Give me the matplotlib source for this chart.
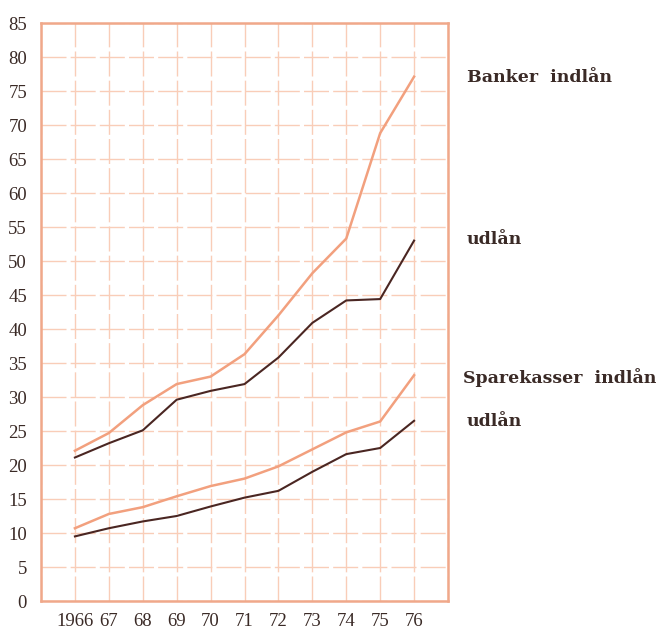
import numpy as np
import matplotlib.pyplot as plt

years = [1966, 1967, 1968, 1969, 1970, 1971, 1972, 1973, 1974, 1975, 1976]
year_labels = ["1966", "67", "68", "69", "70", "71", "72", "73", "74", "75", "76"]

banker_indlan = [22.1, 24.7, 28.8, 31.9, 33.0, 36.3, 42.0, 48.2, 53.3, 68.8, 77.1]
banker_udlan = [21.1, 23.2, 25.1, 29.6, 30.9, 31.9, 35.8, 40.9, 44.2, 44.4, 53.0]
spare_indlan = [10.7, 12.8, 13.8, 15.4, 16.9, 18.0, 19.8, 22.3, 24.8, 26.4, 33.2]
spare_udlan = [9.5, 10.7, 11.7, 12.5, 13.9, 15.2, 16.2, 19.0, 21.6, 22.5, 26.5]

light = "#f2a07e"
dark = "#4a2622"
frame = "#f0a88a"
gridc = "#f9cdb8"
textc = "#3a2a26"

plt.rcParams['font.family'] = ['Liberation Serif', 'DejaVu Serif']

fig = plt.figure(figsize=(6.68, 6.33), dpi=100)
ax = fig.add_axes([41 / 668, 1 - 601 / 633, 407 / 668, 578 / 633])

ax.plot(years, banker_indlan, color=light, lw=1.8)
ax.plot(years, banker_udlan, color=dark, lw=1.5)
ax.plot(years, spare_indlan, color=light, lw=1.8)
ax.plot(years, spare_udlan, color=dark, lw=1.5)

ax.set_xlim(1965, 1977)
ax.set_ylim(0, 85)
ax.set_xticks(np.arange(1965, 1978))
ax.set_xticklabels([""] + year_labels + [""])
ax.set_yticks(np.arange(0, 86, 5))
ax.grid(True, color=gridc, lw=1.0, linestyle=(0, (18, 3)))
ax.tick_params(length=0, labelsize=13.5, labelcolor=textc)
ax.tick_params(axis="y", pad=10)
ax.tick_params(axis="x", pad=9)
for s in ax.spines.values():
    s.set_color(frame)
    s.set_linewidth(1.8)

lab = dict(transform=fig.transFigure, fontsize=12.5, fontweight="bold", color=textc,
           va="center", family=["DejaVu Serif"])
fig.text(467 / 668, 1 - 78 / 633, "Banker  indlån", **lab)
fig.text(467 / 668, 1 - 240 / 633, "udlån", **lab)
fig.text(463 / 668, 1 - 378 / 633, "Sparekasser  indlån", **lab)
fig.text(467 / 668, 1 - 422 / 633, "udlån", **lab)

fig.savefig("out.png", dpi=100)
